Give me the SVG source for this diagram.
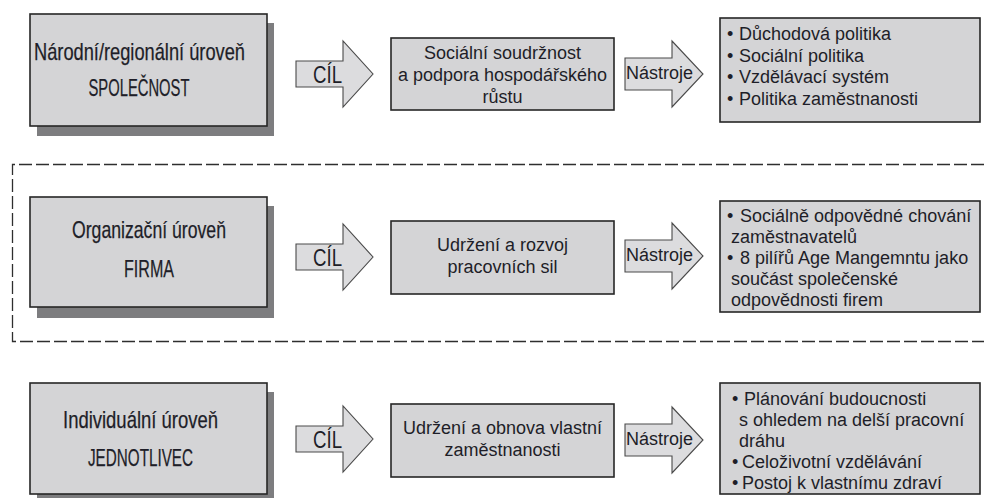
<svg xmlns="http://www.w3.org/2000/svg" width="984" height="498" viewBox="0 0 984 498">
<style>
.bg{fill:#ffffff}
.shadow{fill:#7d7d7f}
.box{fill:#d4d4d6;stroke:#262626;stroke-width:1.6}
.arrow{fill:#dcdcde;stroke:#4a4a4a;stroke-width:1.1}
.dash{fill:none;stroke:#2e2e2e;stroke-width:1.3;stroke-dasharray:13 4}
text{font-family:"Liberation Sans",Arial,sans-serif;fill:#1e1e28}
.lvl{font-size:24px;text-anchor:middle;stroke:#1e1e28;stroke-width:0.25}
.mid{font-size:18px;text-anchor:middle}
.lst{font-size:18px}
.cil{font-size:23px;text-anchor:middle}
.nas{font-size:18px}
</style>
<rect class="bg" x="0" y="0" width="984" height="498"/>
<path class="dash" d="M984,164.5 H12.5 V341.5 H984"/>

<g id="level-national">
<rect class="shadow" x="37" y="23" width="237" height="113"/>
<rect class="box" x="30" y="14" width="237" height="112"/>
<text class="lvl" x="139.5" y="59.5" textLength="211" lengthAdjust="spacingAndGlyphs">Národní/regionální úroveň</text>
<text class="lvl" x="139" y="96" textLength="101" lengthAdjust="spacingAndGlyphs">SPOLEČNOST</text>
</g>
<g id="goal-national">
<rect class="box" x="391" y="38" width="223" height="72"/>
<text class="mid" x="502.5" y="59">Sociální soudržnost</text>
<text class="mid" x="502.5" y="81">a podpora hospodářského</text>
<text class="mid" x="502.5" y="103">růstu</text>
</g>
<g id="tools-national">
<rect class="box" x="720" y="18" width="260" height="104"/>
<text class="lst" x="727" y="40">• <tspan x="739">Důchodová politika</tspan></text>
<text class="lst" x="727" y="61.5">• <tspan x="739">Sociální politika</tspan></text>
<text class="lst" x="727" y="83">• <tspan x="739">Vzdělávací systém</tspan></text>
<text class="lst" x="727" y="104.5">• <tspan x="739">Politika zaměstnanosti</tspan></text>
</g>

<g id="level-org">
<rect class="shadow" x="37" y="206" width="237" height="112"/>
<rect class="box" x="30" y="197" width="237" height="110"/>
<text class="lvl" x="149" y="238" textLength="154" lengthAdjust="spacingAndGlyphs">Organizační úroveň</text>
<text class="lvl" x="149" y="277" textLength="50" lengthAdjust="spacingAndGlyphs">FIRMA</text>
</g>
<g id="goal-org">
<rect class="box" x="391" y="221" width="223" height="73"/>
<text class="mid" x="502.5" y="251">Udržení a rozvoj</text>
<text class="mid" x="502.5" y="273">pracovních sil</text>
</g>
<g id="tools-org">
<rect class="box" x="720" y="201" width="260" height="111"/>
<text class="lst" x="727" y="222">• <tspan x="740">Sociálně odpovědné chování</tspan></text>
<text class="lst" x="731" y="243">zaměstnavatelů</text>
<text class="lst" x="727" y="264">• <tspan x="740">8 pilířů Age Mangemntu jako</tspan></text>
<text class="lst" x="731" y="285">součást společenské</text>
<text class="lst" x="731" y="306">odpovědnosti firem</text>
</g>

<g id="level-individual">
<rect class="shadow" x="37" y="392" width="237" height="112"/>
<rect class="box" x="30" y="383" width="237" height="111"/>
<text class="lvl" x="140.5" y="428" textLength="155" lengthAdjust="spacingAndGlyphs">Individuální úroveň</text>
<text class="lvl" x="140.5" y="466" textLength="105" lengthAdjust="spacingAndGlyphs">JEDNOTLIVEC</text>
</g>
<g id="goal-individual">
<rect class="box" x="391" y="404" width="223" height="73"/>
<text class="mid" x="502.5" y="434">Udržení a obnova vlastní</text>
<text class="mid" x="502.5" y="456">zaměstnanosti</text>
</g>
<g id="tools-individual">
<rect class="box" x="720" y="383" width="260" height="111"/>
<text class="lst" x="732" y="405">• <tspan x="744">Plánování budoucnosti</tspan></text>
<text class="lst" x="739" y="426">s ohledem na delší pracovní</text>
<text class="lst" x="739" y="447">dráhu</text>
<text class="lst" x="732" y="468">• <tspan x="742">Celoživotní vzdělávání</tspan></text>
<text class="lst" x="732" y="489">• <tspan x="742">Postoj k vlastnímu zdraví</tspan></text>
</g>

<g id="connectors">
<path class="arrow" d="M296,61 H343 V41 L373,74 L343,107 V87 H296 Z"/>
<text class="cil" x="327.5" y="83" textLength="29" lengthAdjust="spacingAndGlyphs">CÍL</text>
<path class="arrow" d="M625,58 H672 V41 L703,74 L672,107 V90 H625 Z"/>
<text class="nas" x="626" y="79" textLength="67" lengthAdjust="spacingAndGlyphs">Nástroje</text>

<path class="arrow" d="M296,244 H343 V224 L373,257 L343,290 V270 H296 Z"/>
<text class="cil" x="327.5" y="266" textLength="29" lengthAdjust="spacingAndGlyphs">CÍL</text>
<path class="arrow" d="M625,240 H672 V223 L703,256 L672,289 V272 H625 Z"/>
<text class="nas" x="626" y="261" textLength="67" lengthAdjust="spacingAndGlyphs">Nástroje</text>

<path class="arrow" d="M296,426 H343 V406 L373,439 L343,472 V452 H296 Z"/>
<text class="cil" x="327.5" y="448" textLength="29" lengthAdjust="spacingAndGlyphs">CÍL</text>
<path class="arrow" d="M625,424 H672 V407 L703,440 L672,473 V456 H625 Z"/>
<text class="nas" x="626" y="445" textLength="67" lengthAdjust="spacingAndGlyphs">Nástroje</text>
</g>
</svg>
